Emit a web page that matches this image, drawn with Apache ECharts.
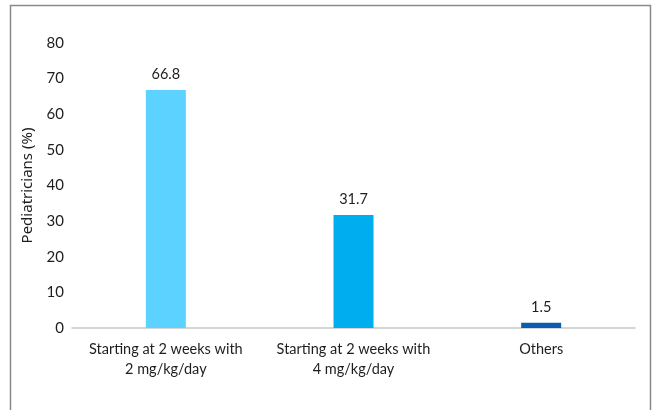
<!DOCTYPE html>
<html>
<head>
<meta charset="utf-8">
<script src="https://cdn.jsdelivr.net/npm/echarts@6/dist/echarts.min.js"></script>
<style>
  html, body { margin: 0; padding: 0; background: #fff; }
  #chart { width: 652px; height: 410px; }
</style>
</head>
<body>
<div id="chart"></div>
<script>
// Dosing schedule chosen by pediatricians
const categories = ['Starting at 2 weeks with\n2 mg/kg/day', 'Starting at 2 weeks with\n4 mg/kg/day', 'Others'];
const values = [66.8, 31.7, 1.5];
const barColors = ['#5BD2FF', '#00AEEF', '#0A5DAE'];
const yTicks = [0, 10, 20, 30, 40, 50, 60, 70, 80];

const FONT = 'Lato, "Noto Sans", sans-serif';

const chart = echarts.init(document.getElementById('chart'), null, { renderer: 'canvas' });
chart.setOption({
  animation: false,
  backgroundColor: '#fff',
  textStyle: { fontFamily: FONT },
  graphic: [{
    type: 'rect',
    shape: { x: 10.5, y: 5.5, width: 640, height: 420 },
    style: { fill: 'none', stroke: '#8a8a8a', lineWidth: 1.5 },
    silent: true
  }],
  grid: { left: 72, right: 17, top: 43, bottom: 82 },
  xAxis: {
    type: 'category',
    data: categories,
    axisLine: { lineStyle: { color: '#c8c8c8', width: 1.5 } },
    axisTick: { show: false },
    axisLabel: { color: '#1e1e1e', fontSize: 14.5, lineHeight: 20, margin: 11, interval: 0, fontFamily: FONT }
  },
  yAxis: {
    type: 'value',
    min: yTicks[0],
    max: yTicks[yTicks.length - 1],
    interval: 10,
    name: 'Pediatricians (%)',
    nameLocation: 'middle',
    nameGap: 37,
    nameTextStyle: { color: '#1e1e1e', fontSize: 15, fontFamily: '"Noto Sans", sans-serif' },
    axisLine: { show: false },
    axisTick: { show: false },
    splitLine: { show: false },
    axisLabel: { color: '#1e1e1e', fontSize: 15, margin: 8, fontFamily: FONT }
  },
  series: [{
    type: 'bar',
    barWidth: 40,
    data: values.map((v, i) => ({ value: v, itemStyle: { color: barColors[i] } })),
    label: {
      show: true,
      position: 'top',
      distance: 8,
      color: '#1e1e1e',
      fontSize: 14.5,
      fontFamily: FONT
    }
  }]
});
</script>
</body>
</html>
